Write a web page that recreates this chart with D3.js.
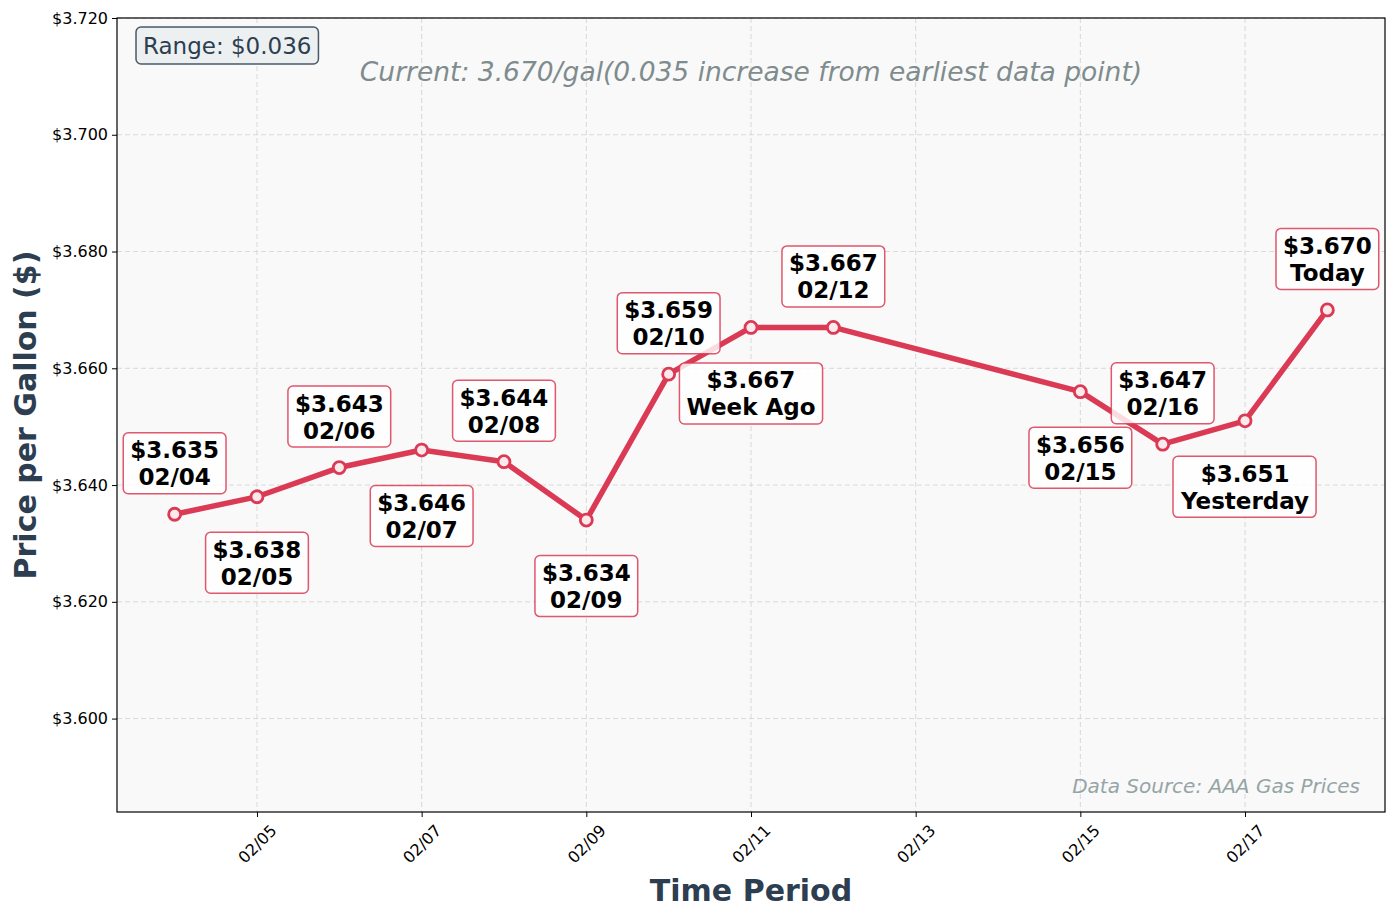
<!DOCTYPE html>
<html>
<head>
<meta charset="utf-8">
<script src="https://cdn.jsdelivr.net/npm/d3@7"></script>
<style>
  body { margin: 0; background: white; font-family: "DejaVu Sans", sans-serif; }
</style>
</head>
<body>
<div id="chart"></div>
<script>
// DATA
const dates = ['02/04', '02/05', '02/06', '02/07', '02/08', '02/09', '02/10', '02/11', '02/12', '02/15', '02/16', '02/17', '02/18'];
const prices = [3.635, 3.638, 3.643, 3.646, 3.644, 3.634, 3.659, 3.667, 3.667, 3.656, 3.647, 3.651, 3.670];
const pointNames = ['02/04', '02/05', '02/06', '02/07', '02/08', '02/09', '02/10', 'Week Ago', '02/12', '02/15', '02/16', 'Yesterday', 'Today'];
const xTicks = ['02/05', '02/07', '02/09', '02/11', '02/13', '02/15', '02/17'];
const yTicks = [3.600, 3.620, 3.640, 3.660, 3.680, 3.700, 3.720];

const parseDay = s => d3.timeParse('%m/%d/%Y')(s + '/2025');
const data = dates.map((d, i) => ({ date: parseDay(d), price: prices[i], name: pointNames[i] }));

// DIMENSIONS
const width = 1397, height = 918;
const pLeft = 117, pRight = 1385, pTop = 18, pBottom = 812;
const red = '#db3a55';

const svg = d3.select('#chart')
  .append('svg')
  .attr('width', width)
  .attr('height', height);

// SCALES (5% margin on x, +-0.05 on y like the original)
const x0 = data[0].date, x1 = data[data.length - 1].date;
const span = x1 - x0;
const xScale = d3.scaleTime()
  .domain([new Date(+x0 - span * 0.05), new Date(+x1 + span * 0.05)])
  .range([pLeft, pRight]);

const yMin = d3.min(prices) - 0.05, yMax = d3.max(prices) + 0.05;
const yScale = d3.scaleLinear()
  .domain([yMin, yMax])
  .range([pBottom, pTop]);

// BACKGROUND
svg.append('rect')
  .attr('x', pLeft).attr('y', pTop)
  .attr('width', pRight - pLeft).attr('height', pBottom - pTop)
  .attr('fill', '#f9f9f9');

// GRID
const xTickDates = xTicks.map(parseDay);
svg.append('g')
  .selectAll('line')
  .data(xTickDates)
  .enter()
  .append('line')
  .attr('x1', d => xScale(d)).attr('x2', d => xScale(d))
  .attr('y1', pTop).attr('y2', pBottom)
  .attr('stroke', '#d0d0d0').attr('stroke-dasharray', '5,3').attr('stroke-width', 0.8);

svg.append('g')
  .selectAll('line')
  .data(yTicks)
  .enter()
  .append('line')
  .attr('x1', pLeft).attr('x2', pRight)
  .attr('y1', d => yScale(d)).attr('y2', d => yScale(d))
  .attr('stroke', '#d0d0d0').attr('stroke-dasharray', '5,3').attr('stroke-width', 0.8);

// AXES
const xAxis = svg.append('g')
  .attr('transform', `translate(0,${pBottom})`)
  .call(d3.axisBottom(xScale).tickValues(xTickDates).tickFormat(d3.timeFormat('%m/%d')).tickSizeOuter(0).tickSize(5));
xAxis.select('.domain').remove();
xAxis.selectAll('text')
  .style('font-family', 'DejaVu Sans')
  .style('font-size', '16px')
  .attr('fill', 'black')
  .attr('text-anchor', 'middle')
  .attr('dominant-baseline', 'central')
  .attr('dy', null)
  .attr('y', 0).attr('x', 0)
  .attr('transform', 'translate(0,32) rotate(-45)');

const yAxis = svg.append('g')
  .attr('transform', `translate(${pLeft},0)`)
  .call(d3.axisLeft(yScale).tickValues(yTicks).tickFormat(d => '$' + d3.format('.3f')(d)).tickSizeOuter(0).tickSize(5));
yAxis.select('.domain').remove();
yAxis.selectAll('text')
  .style('font-family', 'DejaVu Sans')
  .style('font-size', '16px')
  .attr('fill', 'black')
  .attr('x', -9);

// FRAME
svg.append('rect')
  .attr('x', pLeft).attr('y', pTop)
  .attr('width', pRight - pLeft).attr('height', pBottom - pTop)
  .attr('fill', 'none').attr('stroke', 'black').attr('stroke-width', 1.2);

// LINE
const line = d3.line()
  .x(d => xScale(d.date))
  .y(d => yScale(d.price));

svg.append('path')
  .datum(data)
  .attr('d', line)
  .attr('fill', 'none')
  .attr('stroke', red)
  .attr('stroke-width', 5.5)
  .attr('stroke-linejoin', 'round');

svg.append('g')
  .selectAll('circle')
  .data(data)
  .enter()
  .append('circle')
  .attr('cx', d => xScale(d.date))
  .attr('cy', d => yScale(d.price))
  .attr('r', 6)
  .attr('fill', '#fbe9ec')
  .attr('stroke', red)
  .attr('stroke-width', 2.8);

// ANNOTATIONS (alternate above / below)
const notes = svg.append('g');
data.forEach((d, i) => {
  const px = xScale(d.date), py = yScale(d.price);
  const cy = i % 2 === 0 ? py - 51 : py + 66;
  const g = notes.append('g');
  const box = g.append('rect');
  const t = g.append('text')
    .attr('text-anchor', 'middle')
    .style('font-family', 'DejaVu Sans')
    .style('font-weight', 'bold')
    .style('font-size', '23px')
    .attr('fill', 'black');
  t.append('tspan').attr('x', px).attr('y', cy - 5).text('$' + d3.format('.3f')(d.price));
  t.append('tspan').attr('x', px).attr('y', cy + 22).text(d.name);
  const bb = t.node().getBBox();
  const pad = 7;
  box.attr('x', bb.x - pad).attr('y', cy - 30.5)
    .attr('width', bb.width + 2 * pad).attr('height', 61)
    .attr('rx', 5)
    .attr('fill', 'white').attr('fill-opacity', 0.82)
    .attr('stroke', red).attr('stroke-opacity', 0.85).attr('stroke-width', 1.5);
});

// RANGE BOX
const rangeVal = d3.max(prices) - d3.min(prices);
const rg = svg.append('g');
const rBox = rg.append('rect');
const rText = rg.append('text')
  .attr('x', 143).attr('y', 54)
  .style('font-family', 'DejaVu Sans')
  .style('font-size', '23px')
  .attr('fill', '#2c3e50')
  .text('Range: $' + d3.format('.3f')(rangeVal));
const rb = rText.node().getBBox();
rBox.attr('x', rb.x - 7).attr('y', 27)
  .attr('width', rb.width + 14).attr('height', 37)
  .attr('rx', 5)
  .attr('fill', '#ecf0f1')
  .attr('stroke', '#2c3e50').attr('stroke-opacity', 0.85).attr('stroke-width', 1.5);

// CURRENT TEXT
const last = prices[prices.length - 1], first = prices[0];
svg.append('text')
  .attr('x', (pLeft + pRight) / 2).attr('y', 81)
  .attr('text-anchor', 'middle')
  .style('font-family', 'DejaVu Sans')
  .style('font-style', 'italic')
  .style('font-size', '26.5px')
  .attr('fill', '#7f8c8d')
  .text(`Current: ${d3.format('.3f')(last)}/gal(${d3.format('.3f')(last - first)} increase from earliest data point)`);

// DATA SOURCE
svg.append('text')
  .attr('x', 1360).attr('y', 793)
  .attr('text-anchor', 'end')
  .style('font-family', 'DejaVu Sans')
  .style('font-style', 'italic')
  .style('font-size', '20px')
  .attr('fill', '#95a5a6')
  .text('Data Source: AAA Gas Prices');

// AXIS TITLES
svg.append('text')
  .attr('x', (pLeft + pRight) / 2).attr('y', 901)
  .attr('text-anchor', 'middle')
  .style('font-family', 'DejaVu Sans')
  .style('font-weight', 'bold')
  .style('font-size', '30px')
  .attr('fill', '#2c3e50')
  .text('Time Period');

svg.append('text')
  .attr('transform', `translate(36,${(pTop + pBottom) / 2}) rotate(-90)`)
  .attr('text-anchor', 'middle')
  .style('font-family', 'DejaVu Sans')
  .style('font-weight', 'bold')
  .style('font-size', '30px')
  .attr('fill', '#2c3e50')
  .text('Price per Gallon ($)');
</script>
</body>
</html>
